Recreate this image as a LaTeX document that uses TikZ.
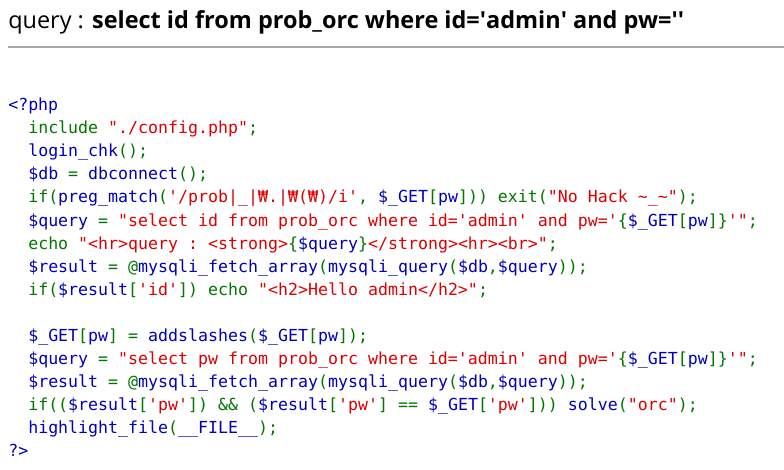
\documentclass[tikz,border=0pt]{standalone}
\usepackage{fontspec}
\setmainfont{Open Sans}
\setmonofont{DejaVu Sans Mono}
\definecolor{phpb}{HTML}{0000BB}
\definecolor{phpg}{HTML}{007700}
\definecolor{phpr}{HTML}{DD0000}
\definecolor{hrgray}{HTML}{A8A8A8}
\newcommand\cB[1]{\textcolor{phpb}{#1}}
\newcommand\cG[1]{\textcolor{phpg}{#1}}
\newcommand\cR[1]{\textcolor{phpr}{#1}}
\newcommand\q{\textquotesingle}
\tikzset{
  codeline/.style={anchor=base west, inner sep=0pt, font=\ttfamily\fontsize{12.45}{14}\selectfont},
  titletext/.style={anchor=base west, inner sep=0pt, font=\fontsize{17.6}{20}\selectfont},
  rule/.style={draw=hrgray, line width=1.1pt}
}
\begin{document}
\begin{tikzpicture}[x=0.75pt,y=-0.75pt]
\useasboundingbox[fill=white] (0,0) rectangle (784,470);
\node[titletext] (title) at (8,29) {query : \textbf{select id from prob\_orc where id=\q admin\q{} and pw=\q\q}};
\coordinate (hrl) at (8,47);
\coordinate (hrr) at (784,47);
\draw[rule] (hrl) -- (hrr);
\node[codeline] (l0) at (8,111) {\cB{<?php}};
\node[codeline] (l1) at (28,134) {\cG{include }\cR{"./config.php"}\cG{;}};
\node[codeline] (l2) at (28,157) {\cB{login\_chk}\cG{();}};
\node[codeline] (l3) at (28,180) {\cB{\$db }\cG{= }\cB{dbconnect}\cG{();}};
\node[codeline] (l4) at (28,203) {\cG{if(}\cB{preg\_match}\cG{(}\cR{'/prob|\_|₩.|₩(₩)/i'}\cG{, }\cB{\$\_GET}\cG{[}\cB{pw}\cG{])) exit(}\cR{"No Hack \string~\_\string~"}\cG{);}};
\node[codeline] (l5) at (28,226) {\cB{\$query }\cG{= }\cR{"select id from prob\_orc where id='admin' and pw='}\cG{\{}\cB{\$\_GET}\cG{[}\cB{pw}\cG{]\}}\cR{'"}\cG{;}};
\node[codeline] (l6) at (28,249) {\cG{echo }\cR{"<hr>query : <strong>}\cG{\{}\cB{\$query}\cG{\}}\cR{</strong><hr><br>"}\cG{;}};
\node[codeline] (l7) at (28,272) {\cB{\$result }\cG{= @}\cB{mysqli\_fetch\_array}\cG{(}\cB{mysqli\_query}\cG{(}\cB{\$db}\cG{,}\cB{\$query}\cG{));}};
\node[codeline] (l8) at (28,295) {\cG{if(}\cB{\$result}\cG{[}\cR{'id'}\cG{]) echo }\cR{"<h2>Hello admin</h2>"}\cG{;}};
\node[codeline] (l10) at (28,341) {\cB{\$\_GET}\cG{[}\cB{pw}\cG{] = }\cB{addslashes}\cG{(}\cB{\$\_GET}\cG{[}\cB{pw}\cG{]);}};
\node[codeline] (l11) at (28,364) {\cB{\$query }\cG{= }\cR{"select pw from prob\_orc where id='admin' and pw='}\cG{\{}\cB{\$\_GET}\cG{[}\cB{pw}\cG{]\}}\cR{'"}\cG{;}};
\node[codeline] (l12) at (28,387) {\cB{\$result }\cG{= @}\cB{mysqli\_fetch\_array}\cG{(}\cB{mysqli\_query}\cG{(}\cB{\$db}\cG{,}\cB{\$query}\cG{));}};
\node[codeline] (l13) at (28,410) {\cG{if((}\cB{\$result}\cG{[}\cR{'pw'}\cG{]) \&\& (}\cB{\$result}\cG{[}\cR{'pw'}\cG{] == }\cB{\$\_GET}\cG{[}\cR{'pw'}\cG{])) }\cB{solve}\cG{(}\cR{"orc"}\cG{);}};
\node[codeline] (l14) at (28,433) {\cB{highlight\_file}\cG{(}\cB{\_\_FILE\_\_}\cG{);}};
\node[codeline] (l15) at (8,456) {\cB{?>}};
\end{tikzpicture}
\end{document}
